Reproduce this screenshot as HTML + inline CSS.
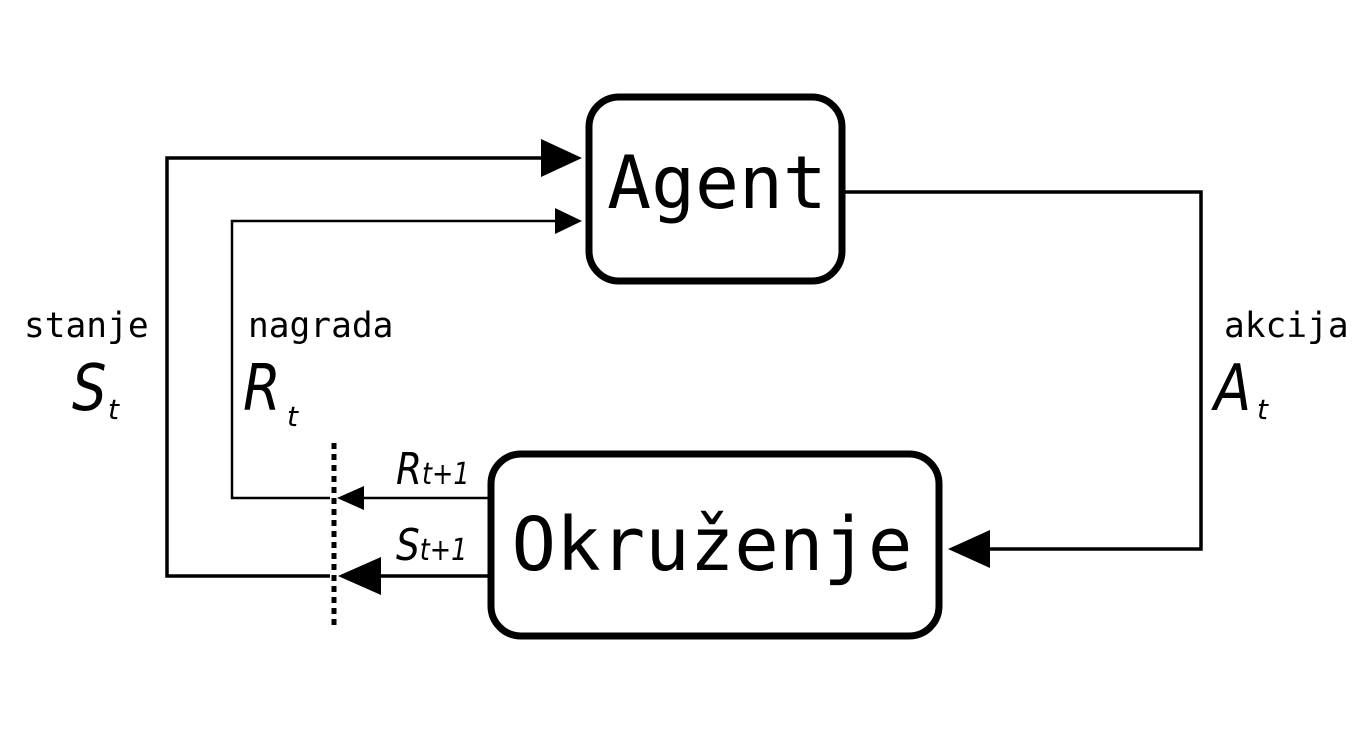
<!DOCTYPE html>
<html><head><meta charset="utf-8"><style>
html,body{margin:0;padding:0;background:#fff;}
svg{display:block;}
.m{font-family:"DejaVu Sans Mono","Liberation Mono",monospace;}
.i{font-family:"DejaVu Sans","Liberation Sans",sans-serif;font-style:italic;}
</style></head><body>
<svg width="1370" height="737" viewBox="0 0 1370 737" xmlns="http://www.w3.org/2000/svg">
<rect x="0" y="0" width="1370" height="737" fill="#fff"/>
<rect x="589" y="97" width="253" height="184" rx="30" fill="none" stroke="#000" stroke-width="7"/>
<rect x="491" y="454" width="448" height="182" rx="30" fill="none" stroke="#000" stroke-width="7"/>
<text class="m" x="717" y="208" font-size="73" text-anchor="middle">Agent</text>
<text class="m" x="712" y="570" font-size="74" text-anchor="middle">Okruženje</text>
<polyline points="845,192 1201,192 1201,549 985,549" fill="none" stroke="#000" stroke-width="3.5"/>
<polygon points="948,549 990,530 990,568" fill="#000"/>
<polyline points="488,576 375,576" fill="none" stroke="#000" stroke-width="3.5"/>
<polygon points="338,576 381,557 381,595" fill="#000"/>
<polyline points="330,576 167,576 167,158 545,158" fill="none" stroke="#000" stroke-width="3.5"/>
<polygon points="582,158 541,139 541,177" fill="#000"/>
<polyline points="488,498 360,498" fill="none" stroke="#000" stroke-width="2.5"/>
<polygon points="337,498 364,486 364,510" fill="#000"/>
<polyline points="330,498 232,498 232,221 558,221" fill="none" stroke="#000" stroke-width="2.5"/>
<polygon points="582,221 555,208 555,234" fill="#000"/>
<line x1="334" y1="443" x2="334" y2="627" stroke="#000" stroke-width="5" stroke-dasharray="6,5"/>
<text class="m" x="24" y="337" font-size="34.5">stanje</text>
<text class="m" x="248" y="337" font-size="34.5">nagrada</text>
<text class="m" x="1224" y="337" font-size="34.5">akcija</text>
<text class="i" x="72" y="410" font-size="64" transform="translate(72 0) scale(0.85 1) translate(-72 0)">S</text>
<text class="i" x="108" y="419" font-size="28">t</text>
<text class="i" x="243" y="410" font-size="64" transform="translate(243 0) scale(0.85 1) translate(-243 0)">R</text>
<text class="i" x="287" y="426" font-size="28">t</text>
<text class="i" x="1214" y="410" font-size="64" transform="translate(1214 0) scale(0.85 1) translate(-1214 0)">A</text>
<text class="i" x="1257" y="419" font-size="28">t</text>
<text class="i" x="396" y="484" font-size="44" transform="translate(396 0) scale(0.85 1) translate(-396 0)">R<tspan font-size="30">t+1</tspan></text>
<text class="i" x="396" y="560" font-size="44" transform="translate(396 0) scale(0.85 1) translate(-396 0)">S<tspan font-size="30">t+1</tspan></text>
</svg>
</body></html>
